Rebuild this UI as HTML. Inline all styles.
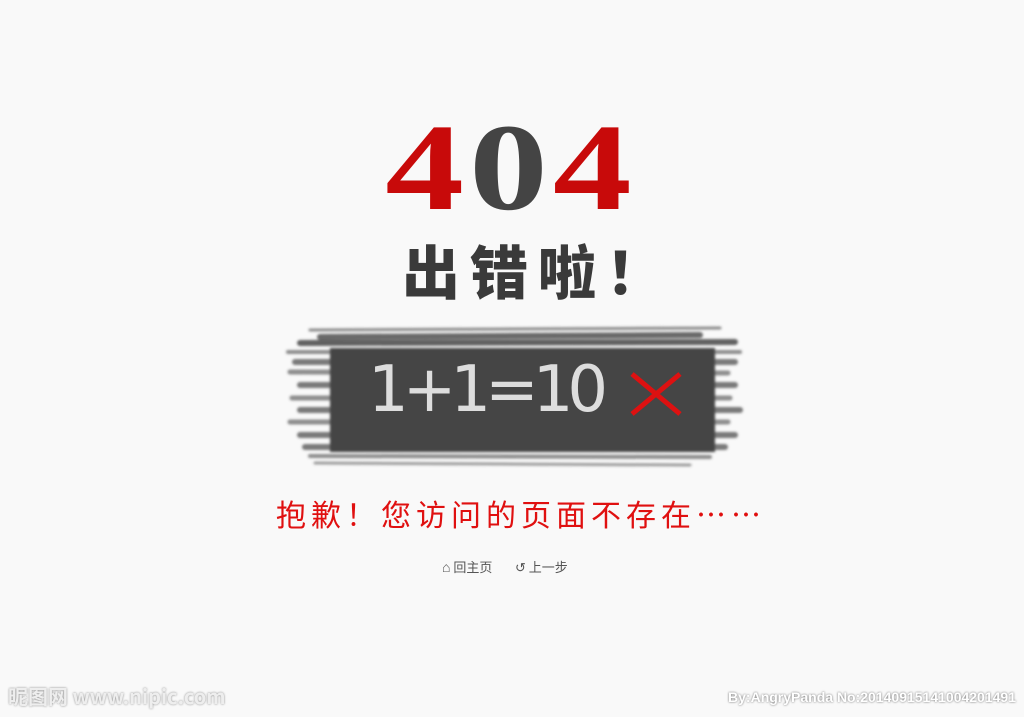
<!DOCTYPE html>
<html><head><meta charset="utf-8"><style>
body{margin:0;width:1024px;height:717px;background:#f9f9f9;position:relative;overflow:hidden;font-family:"Liberation Sans","Noto Sans CJK SC",sans-serif}
.a{position:absolute;white-space:nowrap}
</style></head><body>
<div class="a" style="left:380px;top:106px;width:262px;text-align:center;font:bold 124px/1 'Liberation Serif','DejaVu Serif',serif;letter-spacing:4px;transform:scaleX(1.27);transform-origin:131px 0"><span style="color:#c80a0a">4</span><span style="color:#444">0</span><span style="color:#c80a0a">4</span></div>
<div class="a" style="left:402px;top:240px;font:900 58px/1 'Noto Sans CJK SC',sans-serif;color:#3a3a3a;letter-spacing:10px">出错啦！</div>
<svg class="a" style="left:0;top:0" width="1024" height="717">
<defs><filter id="b"><feGaussianBlur stdDeviation="1.2"/></filter></defs>
<g stroke="#454545" stroke-linecap="round" filter="url(#b)">
<rect x="330" y="348" width="385" height="104" fill="#444" stroke="none"/>
<line x1="310" y1="330" x2="720" y2="328" stroke-width="3" opacity=".6"/>
<line x1="320" y1="337" x2="700" y2="335" stroke-width="6" opacity=".8"/>
<line x1="300" y1="343" x2="735" y2="342" stroke-width="6" opacity=".85"/>
<line x1="288" y1="352" x2="740" y2="352" stroke-width="4" opacity=".6"/>
<line x1="295" y1="362" x2="735" y2="362" stroke-width="6" opacity=".7"/>
<line x1="290" y1="372" x2="728" y2="373" stroke-width="5" opacity=".6"/>
<line x1="300" y1="385" x2="735" y2="385" stroke-width="6" opacity=".7"/>
<line x1="292" y1="398" x2="730" y2="398" stroke-width="5" opacity=".6"/>
<line x1="300" y1="410" x2="740" y2="410" stroke-width="6" opacity=".7"/>
<line x1="290" y1="422" x2="728" y2="422" stroke-width="5" opacity=".6"/>
<line x1="300" y1="435" x2="735" y2="435" stroke-width="6" opacity=".7"/>
<line x1="305" y1="447" x2="725" y2="447" stroke-width="6" opacity=".7"/>
<line x1="310" y1="456" x2="710" y2="457" stroke-width="4" opacity=".6"/>
<line x1="315" y1="463" x2="690" y2="465" stroke-width="3" opacity=".5"/>
</g>
<g stroke="#dd1111" stroke-width="5"><line x1="632" y1="374" x2="680" y2="414"/><line x1="680" y1="374" x2="632" y2="414"/></g>
</svg>
<div class="a" style="left:368px;top:358px;font:normal 64px/1 'DejaVu Sans','Liberation Sans',sans-serif;color:#ddd;letter-spacing:-6px">1+1=10</div>
<div class="a" style="left:276px;top:498px;font:30px/1 'Noto Sans CJK SC',sans-serif;color:#e01010;letter-spacing:5px">抱歉！您访问的页面不存在……</div>
<div class="a" style="left:442px;top:559px;font:13px/16px 'Noto Sans CJK SC',sans-serif;color:#555"><span style="font-size:14px">⌂</span> 回主页</div>
<div class="a" style="left:515px;top:559px;font:13px/16px 'Noto Sans CJK SC',sans-serif;color:#555">↺ 上一步</div>
<div class="a" style="left:8px;top:686px;font:bold 20px/1 'Noto Sans CJK SC',sans-serif;color:#eee;text-shadow:0 0 2px #888">昵图网 www.nipic.com</div>
<div class="a" style="right:8px;top:690px;font:bold 14px/1 'Liberation Sans',sans-serif;color:#fff;text-shadow:0 0 2px #666">By:AngryPanda No:20140915141004201491</div>
</body></html>
